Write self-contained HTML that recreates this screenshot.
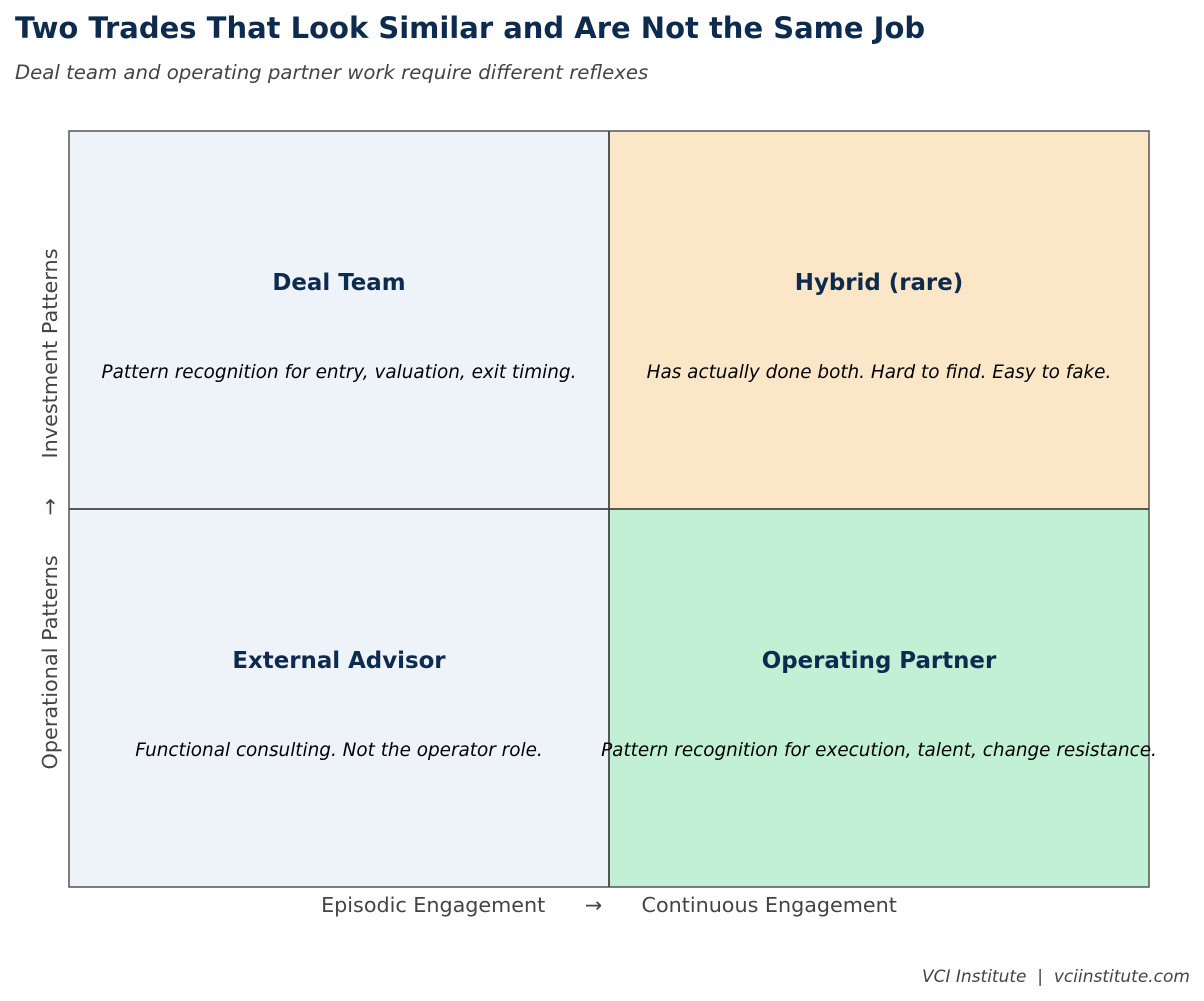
<!DOCTYPE html>
<html><head><meta charset="utf-8"><style>
html,body{margin:0;padding:0;background:#fff;}
svg{display:block;font-family:"DejaVu Sans","Liberation Sans",sans-serif;}
</style></head><body>
<svg width="1204" height="1001" viewBox="0 0 1204 1001" xmlns="http://www.w3.org/2000/svg">
<text x="15" y="38" font-size="29" font-weight="bold" fill="#0d2b4e">Two Trades That Look Similar and Are Not the Same Job</text>
<text x="15" y="79" font-size="19.7" font-style="italic" fill="#444">Deal team and operating partner work require different reflexes</text>
<rect x="69" y="131" width="540" height="378" fill="#eef3fa"/>
<rect x="609" y="131" width="540" height="378" fill="#fce6c8"/>
<rect x="69" y="509" width="540" height="378" fill="#eef3fa"/>
<rect x="609" y="509" width="540" height="378" fill="#c1f0d4"/>
<rect x="69" y="131" width="1080" height="756" fill="none" stroke="#555" stroke-width="1.5"/>
<line x1="609" y1="131" x2="609" y2="887" stroke="#444" stroke-width="1.8"/>
<line x1="69" y1="509" x2="1149" y2="509" stroke="#444" stroke-width="1.8"/>
<g text-anchor="middle">
<text x="339" y="290" font-size="22.9" font-weight="bold" fill="#0d2b4e">Deal Team</text>
<text x="339" y="378" font-size="18.4" font-style="italic" fill="#000">Pattern recognition for entry, valuation, exit timing.</text>
<text x="879" y="290" font-size="22.9" font-weight="bold" fill="#0d2b4e">Hybrid (rare)</text>
<text x="879" y="378" font-size="18.4" font-style="italic" fill="#000">Has actually done both. Hard to find. Easy to fake.</text>
<text x="339" y="668" font-size="22.9" font-weight="bold" fill="#0d2b4e">External Advisor</text>
<text x="339" y="756" font-size="18.4" font-style="italic" fill="#000">Functional consulting. Not the operator role.</text>
<text x="879" y="668" font-size="22.9" font-weight="bold" fill="#0d2b4e">Operating Partner</text>
<text x="879" y="756" font-size="18.4" font-style="italic" fill="#000">Pattern recognition for execution, talent, change resistance.</text>
<text x="609" y="912" font-size="20.7" fill="#444" xml:space="preserve">Episodic Engagement      →      Continuous Engagement</text>
<text transform="translate(57,509) rotate(-90)" font-size="20.8" fill="#444" xml:space="preserve">Operational Patterns      →      Investment Patterns</text>
</g>
<text x="1190" y="982" font-size="17" font-style="italic" fill="#444" text-anchor="end" xml:space="preserve">VCI Institute  |  vciinstitute.com</text>
</svg>
</body></html>
